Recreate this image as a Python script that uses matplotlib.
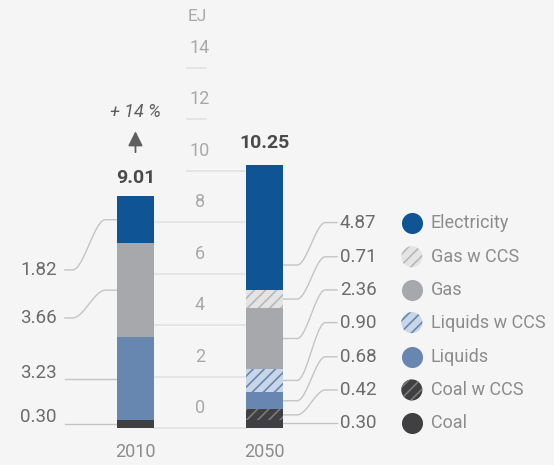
import numpy as np
import matplotlib
matplotlib.use("Agg")
import matplotlib.pyplot as plt

plt.rcParams['font.family'] = ['Roboto', 'DejaVu Sans']
plt.rcParams['hatch.linewidth'] = 1.2

# data
years = ['2010', '2050']
categories = ['Coal', 'Coal w CCS', 'Liquids', 'Liquids w CCS', 'Gas', 'Gas w CCS', 'Electricity']
values_2010 = [0.30, 0.0, 3.23, 0.0, 3.66, 0.0, 1.82]
values_2050 = [0.30, 0.42, 0.68, 0.90, 2.36, 0.71, 4.87]
totals = ['9.01', '10.25']
growth = '+ 14 %'
yticks = [0, 2, 4, 6, 8, 10, 12, 14]

colors = {'Coal': '#404042', 'Coal w CCS': '#404042', 'Liquids': '#6787b0',
          'Liquids w CCS': '#c9d6e8', 'Gas': '#a7a8ab', 'Gas w CCS': '#e4e4e4',
          'Electricity': '#0f5596'}
hatch_colors = {'Coal w CCS': '#7a7a7c', 'Liquids w CCS': '#6787b0', 'Gas w CCS': '#b8b8b8'}

bg = '#f5f5f5'
fs = 13
fig = plt.figure(figsize=(5.54, 4.65), dpi=100, facecolor=bg)
ax = fig.add_axes([0, 0, 1, 1], facecolor=bg)
ax.set_xlim(-1.050, 3.244)
ax.set_ylim(-1.439, 16.647)
ax.axis('off')

w = 0.287
xs = np.arange(len(years))

# gridlines between bars
for t in yticks:
    if t <= 8:
        x0, x1 = w / 2, 1 - w / 2
    elif t == 10:
        x0, x1 = 0.399, 1 - w / 2
    else:
        x0, x1 = 0.399, 0.547
    ax.plot([x0, x1], [t, t], color='#e2e2e2', lw=1.2, zorder=1)
    ax.text(0.5, t + 0.78, str(t), ha='center', va='center', fontsize=fs, color='#a9a9a9')
ax.text(0.477, 15.99, 'EJ', ha='center', va='center', fontsize=fs - 0.5, color='#a9a9a9')

# stacked bars
for i, vals in enumerate([values_2010, values_2050]):
    bottom = 0
    for cat, v in zip(categories, vals):
        if v > 0:
            if cat in hatch_colors:
                ax.bar(xs[i], v, w, bottom=bottom, color=colors[cat], edgecolor=hatch_colors[cat],
                       hatch='///', linewidth=0, zorder=2)
            else:
                ax.bar(xs[i], v, w, bottom=bottom, color=colors[cat], linewidth=0, zorder=2)
        bottom += v


def leader(xa, ya, xb, yb, flat_a, flat_b):
    # horizontal, smooth s-curve, horizontal
    if abs(ya - yb) < 0.3:
        ax.plot([xa, xb], [yb, yb], color='#c4c4c4', lw=1.0, zorder=1)
        return
    xm0 = xa + flat_a
    xm1 = xb - flat_b
    t = np.linspace(0, 1, 50)
    s = 3 * t ** 2 - 2 * t ** 3
    xx = np.concatenate([[xa], xm0 + (xm1 - xm0) * t, [xb]])
    yy = np.concatenate([[ya], ya + (yb - ya) * s, [yb]])
    ax.plot(xx, yy, color='#c4c4c4', lw=1.0, zorder=1)


def anchor_of(bottom, v):
    # big segments point near their lower part
    if v > 4:
        return bottom + 0.97
    return bottom + v / 2


lab_col = '#6b6b6b'

# 2010 labels (left)
left_pos = [0.43, 2.14, 4.28, 6.15]
cum = np.cumsum([0] + values_2010)
k = 0
for j, v in enumerate(values_2010):
    if v <= 0:
        continue
    ly = left_pos[k]
    k += 1
    leader(-0.547, ly, -w / 2, anchor_of(cum[j], v), 0.06, 0.09)
    ax.text(-0.609, ly, '%.2f' % v, ha='right', va='center', fontsize=fs + 0.5, color=lab_col)

# 2050 labels (right) + legend
right_pos = [0.18, 1.48, 2.77, 4.10, 5.37, 6.66, 7.99]
cum = np.cumsum([0] + values_2050)
for j, v in enumerate(values_2050):
    cat = categories[j]
    ly = right_pos[j]
    leader(1 + w / 2, anchor_of(cum[j], v), 1.562, ly, 0.11, 0.09)
    ax.text(1.585, ly, '%.2f' % v, ha='left', va='center', fontsize=fs + 0.5, color=lab_col)
    if cat in hatch_colors:
        ax.scatter(2.142, ly, s=230, c=colors[cat], edgecolors=hatch_colors[cat], hatch='///',
                   linewidths=0, zorder=3)
    else:
        ax.scatter(2.142, ly, s=230, c=colors[cat], linewidths=0, zorder=3)
    ax.text(2.29, ly, cat, ha='left', va='center', fontsize=fs, color='#8c8c8c')

# year labels and totals
for i, yr in enumerate(years):
    ax.text(xs[i], -0.93, yr, ha='center', va='center', fontsize=fs, color='#8c8c8c')
ax.text(0, 9.72, totals[0], ha='center', va='center', fontsize=fs + 1, fontweight='bold', color='#4a4a4a')
ax.text(1, 11.08, totals[1], ha='center', va='center', fontsize=fs + 1, fontweight='bold', color='#4a4a4a')

ax.annotate('', xy=(0, 11.65), xytext=(0, 10.62),
            arrowprops=dict(arrowstyle='-|>', color='#5f5f5f', lw=1.3, mutation_scale=22))
ax.text(0, 12.3, growth, ha='center', va='center', fontsize=fs, style='italic', color='#5f5f5f')

fig.savefig('out.png', dpi=100, facecolor=bg)
